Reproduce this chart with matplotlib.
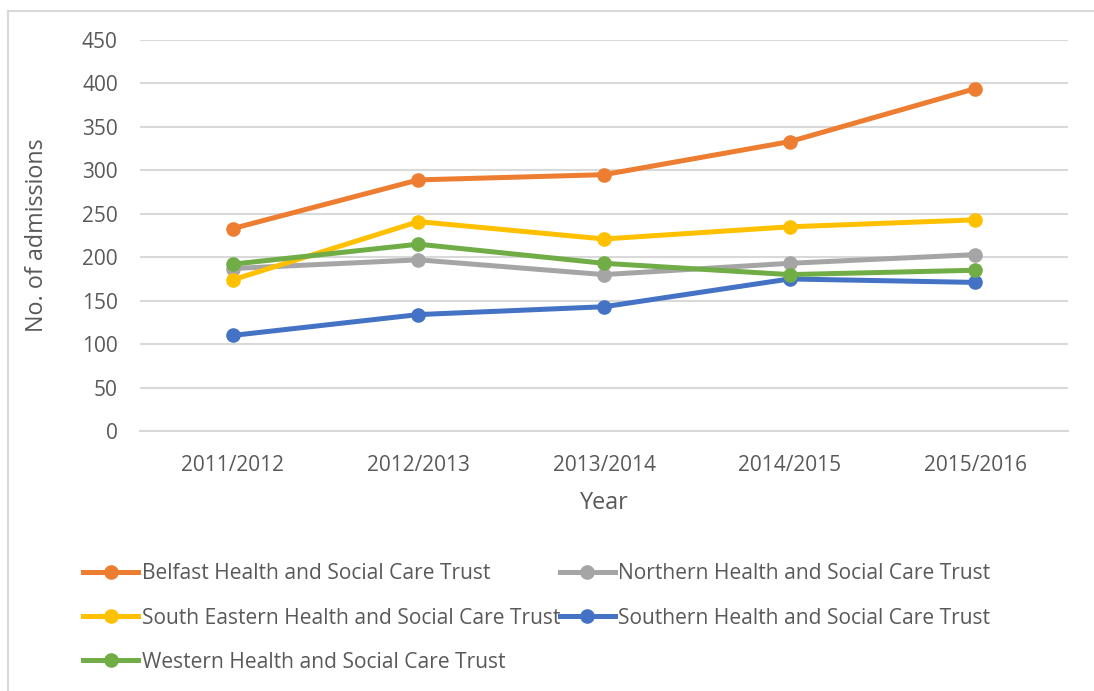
import matplotlib.pyplot as plt
from matplotlib.lines import Line2D

years = ["2011/2012", "2012/2013", "2013/2014", "2014/2015", "2015/2016"]

belfast = [233, 289, 295, 333, 394]
northern = [187, 197, 180, 193, 203]
south_eastern = [174, 241, 221, 235, 243]
southern = [110, 134, 143, 175, 171]
western = [192, 215, 193, 180, 185]

series = [
    ("Belfast Health and Social Care Trust", belfast, "#ed7d31"),
    ("Northern Health and Social Care Trust", northern, "#a5a5a5"),
    ("South Eastern Health and Social Care Trust", south_eastern, "#ffc000"),
    ("Southern Health and Social Care Trust", southern, "#4472c4"),
    ("Western Health and Social Care Trust", western, "#70ad47"),
]

txt = "#595959"
grid = "#d9d9d9"
fam = ["Open Sans", "DejaVu Sans"]

fig = plt.figure(figsize=(10.94, 6.91), dpi=100)
ax = fig.add_axes([140 / 1094, 1 - 431 / 691, 928 / 1094, 391 / 691])

x = list(range(len(years)))
for name, vals, col in series:
    ax.plot(x, vals, color=col, linewidth=3.6, marker="o", markersize=9.5,
            solid_capstyle="round", label=name)

ax.set_xlim(-0.5, 4.5)
ax.set_ylim(0, 450)
ax.set_yticks(range(0, 451, 50))
ax.set_xticks(x)
ax.set_xticklabels(years)
ax.grid(axis="y", color=grid, linewidth=1.5)
ax.set_axisbelow(True)
for s in ["top", "right", "left"]:
    ax.spines[s].set_visible(False)
ax.spines["bottom"].set_color(grid)
ax.spines["bottom"].set_linewidth(1.5)
ax.tick_params(length=0, colors=txt, labelsize=15)
ax.tick_params(axis="y", pad=16)
ax.tick_params(axis="x", pad=17)
for lab in ax.get_xticklabels() + ax.get_yticklabels():
    lab.set_fontfamily(fam)

ax.set_ylabel("No. of admissions", fontsize=16.8, color=txt,
              fontfamily=fam, labelpad=24)
ax.set_xlabel("Year", fontsize=16.8, color=txt,
              fontfamily=fam, labelpad=11)

# legend, filled column by column
handles = {name: Line2D([], [], color=col, linewidth=3.6, marker="o",
                        markersize=9.5) for name, _, col in series}
order = [series[0][0], series[2][0], series[4][0], series[1][0], series[3][0]]
fig.legend([handles[n] for n in order], order, ncol=2,
           loc="upper left", bbox_to_anchor=(73 / 1094, 1 - 553 / 691),
           frameon=False, handlelength=2.6, handletextpad=0.18,
           columnspacing=0.0, labelspacing=1.1, borderpad=0,
           prop={"family": fam, "size": 15.1},
           labelcolor=txt)

# chart border
fig.add_artist(Line2D([8 / 1094, 1], [1 - 11 / 691, 1 - 11 / 691],
                      color=grid, linewidth=1.5))
fig.add_artist(Line2D([8 / 1094, 8 / 1094], [0, 1 - 11 / 691],
                      color=grid, linewidth=1.5))

fig.savefig("out.png", dpi=100)
